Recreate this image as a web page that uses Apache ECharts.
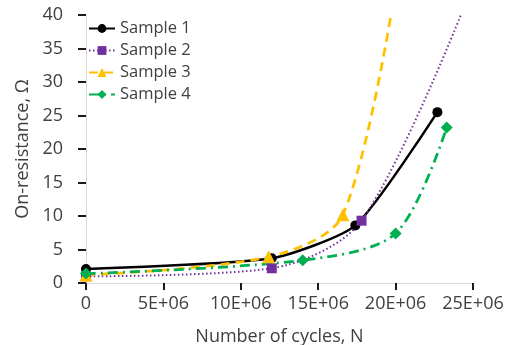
<!DOCTYPE html>
<html>
<head>
<meta charset="utf-8">
<script src="https://cdn.jsdelivr.net/npm/echarts@6/dist/echarts.min.js"></script>
<style>
html,body{margin:0;padding:0;background:#fff;}
#chart{width:508px;height:345px;}
</style>
</head>
<body>
<div id="chart"></div>
<script>
// Data (cycles, on-resistance in ohms)
const seriesNames = ['Sample 1', 'Sample 2', 'Sample 3', 'Sample 4'];
const sample1 = [[0, 2.1], [12.0e6, 3.7], [17.4e6, 8.6], [22.7e6, 25.5]];
const sample2 = [[0, 1.0], [12.0e6, 2.2], [17.8e6, 9.3], [25.0e6, 44.5]];
const sample3 = [[0, 1.2], [11.8e6, 3.9], [16.6e6, 10.2], [20.4e6, 50]];
const sample4 = [[0, 1.4], [14.0e6, 3.4], [20.0e6, 7.4], [23.3e6, 23.2]];
const xTicks = { min: 0, max: 25e6, step: 5e6 };
const yTicks = { min: 0, max: 40, step: 5 };
const xName = 'Number of cycles, N';
const yName = 'On-resistance, Ω';

const FONT = 'Open Sans';
const TXT = '#404040';

const chart = echarts.init(document.getElementById('chart'), null, { renderer: 'canvas' });

function mk(name, data, color, dash, symbol, size, width, smooth) {
  return {
    name: name,
    type: 'line',
    data: data,
    smooth: smooth,
    clip: true,
    symbol: symbol,
    symbolSize: size,
    showAllSymbol: true,
    lineStyle: { color: color, width: width, type: dash },
    itemStyle: { color: color, borderWidth: 0 },
    emphasis: { disabled: true },
    z: 2
  };
}

chart.setOption({
  animation: false,
  backgroundColor: '#fff',
  grid: { left: 86, right: 35, top: 15, bottom: 62, containLabel: false, outerBoundsMode: 'none' },
  legend: {
    orient: 'vertical',
    left: 83,
    top: 15,
    itemWidth: 26,
    itemHeight: 11,
    itemGap: 5,
    textStyle: { fontFamily: FONT, fontSize: 16.5, color: TXT },
    data: seriesNames
  },
  xAxis: {
    type: 'value',
    min: xTicks.min, max: xTicks.max, interval: xTicks.step,
    name: xName,
    nameLocation: 'middle',
    nameGap: 45,
    nameTextStyle: { fontFamily: FONT, fontSize: 18, color: TXT },
    axisLine: { show: true, lineStyle: { color: '#d9d9d9', width: 1 } },
    axisTick: { show: true, length: 7, lineStyle: { color: '#1a1a1a', width: 2 } },
    axisLabel: {
      fontFamily: FONT, fontSize: 18, color: TXT, margin: 12,
      formatter: v => v === 0 ? '0' : (v / 1e6) + 'E+06'
    },
    splitLine: { show: false }
  },
  yAxis: {
    type: 'value',
    min: yTicks.min, max: yTicks.max, interval: yTicks.step,
    name: yName,
    nameLocation: 'middle',
    nameGap: 53,
    nameTextStyle: { fontFamily: FONT, fontSize: 18, color: TXT },
    axisLine: { show: true, lineStyle: { color: '#d9d9d9', width: 1 } },
    axisTick: { show: true, length: 8, lineStyle: { color: '#1a1a1a', width: 2 } },
    axisLabel: { fontFamily: FONT, fontSize: 18, color: TXT, margin: 23 },
    splitLine: { show: false }
  },
  series: [
    mk('Sample 1', sample1, '#000000', 'solid', 'circle', 10, 2.5, 0.2),
    mk('Sample 2', sample2, '#7030A0', [1.5, 2.5], 'rect', 10, 2, 0.3),
    mk('Sample 3', sample3, '#FFC000', [9, 6], 'triangle', 13, 2.75, 0.3),
    mk('Sample 4', sample4, '#00B050', [10, 5, 2, 5], 'diamond', 12, 2.75, 0.3)
  ]
});
</script>
</body>
</html>
